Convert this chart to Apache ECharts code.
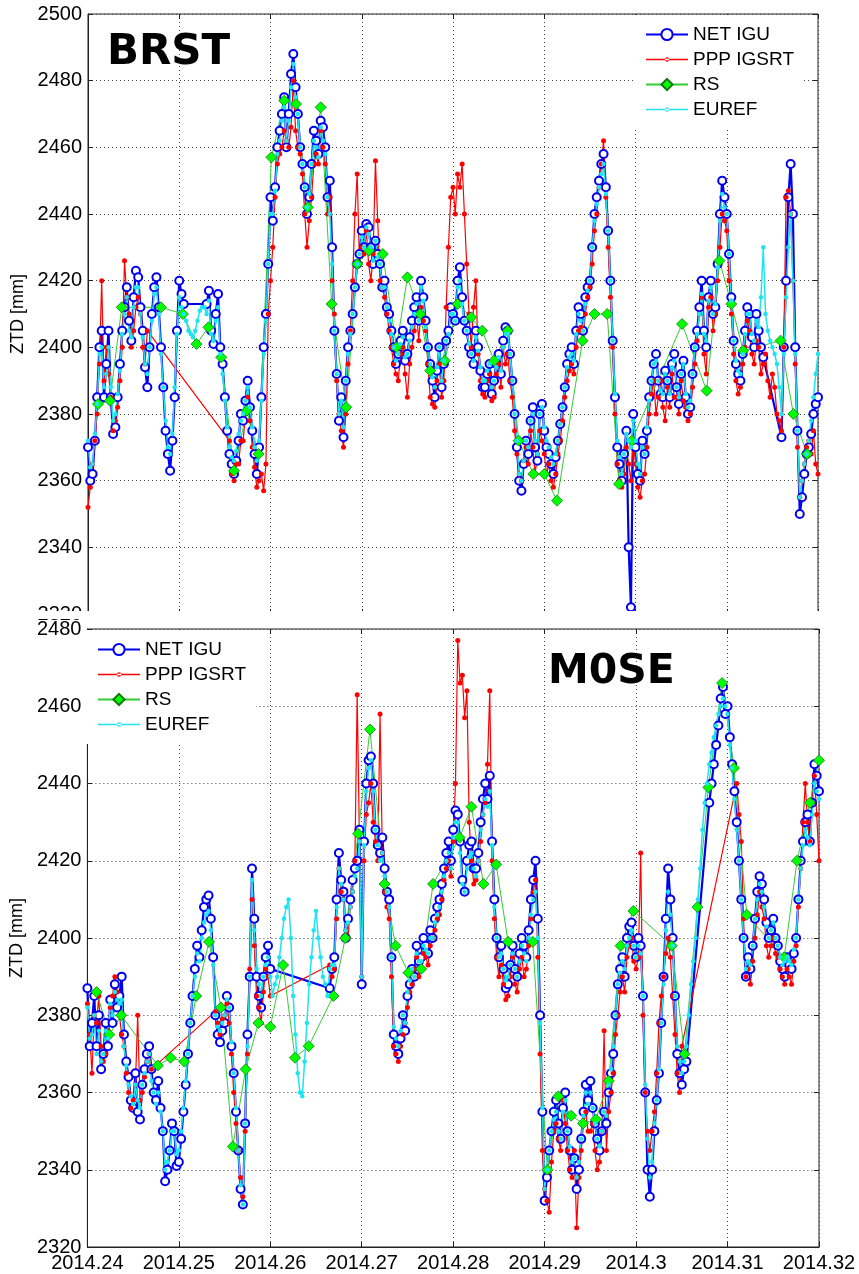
<!DOCTYPE html>
<html>
<head>
<meta charset="utf-8">
<title>ZTD BRST / M0SE</title>
<script src="https://cdn.jsdelivr.net/npm/echarts@6/dist/echarts.min.js"></script>
<style>
  html, body { margin: 0; padding: 0; background: #fff; }
  #chart { width: 859px; height: 1274px; }
</style>
</head>
<body>
<div id="chart"></div>
<script>
// solutions are given on a regular epoch grid (decimal year)
var epochStart = 2014.24
var epochStep = 0.00025

// ---- BRST ----
var brstNet = [2370,2360,2362,2372,2385,2400,2405,2385,2395,2405,2385,2374,2376,2385,2395,2405,2412,2418,2408,2402,
  2415,2423,2421,2412,2405,2394,2388,2400,2410,2418,2421,2412,2400,2388,2375,2368,2363,2372,2385,2405,
  2420,2416,2413,null,null,null,null,null,null,null,null,null,2413,2417,2405,2401,2410,2416,2400,2395,
  2385,2375,2368,2365,2362,2366,2372,2380,2378,2384,2390,2382,2375,2368,2362,2370,2385,2400,2410,2425,
  2445,2438,2448,2460,2465,2470,2475,2460,2470,2482,2488,2478,2470,2460,2455,2448,2440,2445,2455,2465,
  2462,2458,2468,2466,2460,2445,2450,2430,2405,2392,2378,2385,2373,2390,2400,2405,2410,2418,2425,2428,
  2435,2430,2437,2436,2430,2425,2432,2428,2425,2418,2420,2412,2410,2405,2400,2395,2398,2402,2405,2396,
  2398,2403,2408,2412,2415,2408,2420,2415,2408,2400,2395,2390,2385,2393,2400,2388,2395,2402,2405,2412,
  2410,2408,2420,2424,2415,2408,2405,2400,2398,2395,2405,2400,2393,2388,2388,2392,2395,2386,2390,2395,
  2398,2392,2402,2406,2405,2398,2390,2380,2370,2360,2357,2365,2372,2368,2378,2382,2370,2366,2380,2383,
  2375,2370,2368,2365,2362,2367,2372,2377,2382,2388,2395,2398,2400,2395,2405,2412,2410,2405,2415,2418,
  2420,2430,2440,2445,2450,2455,2458,2448,2435,2420,2402,2385,2370,2365,2360,2368,2375,2340,2322,2380,
  2370,2362,2360,2372,2368,2375,2385,2390,2395,2398,2390,2386,2385,2393,2390,2385,2395,2398,2388,2383,
  2392,2396,2385,2380,2382,2392,2400,2405,2412,2420,2405,2400,2415,2420,2410,2412,2425,2440,2450,2445,
  2440,2428,2415,2402,2395,2392,2390,2398,2405,2412,2410,2403,2400,2410,2405,2400,2397,null,null,null,
  null,null,null,null,2373,2400,2420,2445,2455,2440,2400,2375,2350,2355,2362,2368,2370,2374,2380,2383,
  2385]
var brstPpp = [2352,2358,2365,2372,2380,2395,2420,2390,2400,2392,2385,2375,2378,2382,2390,2400,2426,2415,2410,2400,
  2405,2412,2415,2410,2400,2395,2405,null,null,null,null,null,null,null,null,null,null,null,null,null,
  null,null,null,null,null,null,null,null,null,null,null,null,null,null,null,null,null,null,null,null,
  null,null,2372,2362,2360,2365,2365,2372,2372,2380,2385,2378,2370,2364,2358,2360,2362,2357,2365,2410,
  2420,2430,2445,2455,2458,2460,2465,2462,2460,2466,2480,2465,2460,2458,2452,2440,2430,2438,2445,2455,
  2458,2455,2465,2460,2455,2440,2445,2420,2410,2390,2380,2375,2370,2380,2395,2405,2420,2440,2452,2425,
  2430,2428,2435,2425,2420,2428,2456,2438,2420,2418,2415,2410,2405,2400,2395,2392,2390,2398,2400,2392,
  2385,2395,2400,2405,2410,2402,2412,2408,2405,2395,2385,2383,2382,2390,2395,2385,2390,2412,2430,2445,
  2448,2440,2452,2448,2455,2440,2425,2410,2400,2412,2420,2398,2390,2386,2385,2390,2392,2384,2385,2392,
  2395,2388,2400,2395,2398,2390,2385,2375,2368,2362,2360,2366,2370,2365,2375,2370,2362,2368,2375,2372,
  2368,2362,2365,2360,2358,2362,2368,2372,2378,2385,2390,2393,2395,2392,2400,2405,2406,2402,2410,2415,
  2418,2425,2435,2440,2448,2455,2462,2445,2430,2415,2400,2380,2365,2360,2358,2362,2370,2365,2360,2372,
  2365,2358,2355,2360,2362,2370,2380,2386,2390,2380,2385,2390,2382,2378,2388,2382,2392,2385,2385,2380,
  2390,2384,2382,2378,2380,2388,2395,2402,2410,2415,2398,2392,2412,2415,2405,2410,2420,2430,2440,2438,
  2435,2420,2410,2398,2390,2386,2388,2395,2400,2408,2405,2398,2395,2402,2400,2392,2395,2398,2390,2385,
  2392,2388,2380,2378,2375,2400,2445,2447,2440,2420,2395,2370,2355,2360,2365,2370,2372,2368,2375,2365,
  2362]
var brstEuref = [2372,2364,2365,2374,2383,2398,2400,2388,2392,2400,2388,2378,2380,2386,2393,2404,2410,2415,2405,2403,
  2412,2418,2418,2410,2403,2395,2392,2400,2408,2416,2418,2410,2398,2388,2378,2370,2368,2374,2388,2404,
  2415,2412,2410,2408,2405,2404,2403,2405,2408,2411,2412,2412,2410,2414,2404,2402,2408,2412,2398,2392,
  2384,2376,2370,2367,2366,2369,2374,2378,2380,2384,2388,2382,2376,2370,2366,2372,2384,2398,2408,2425,
  2440,2440,2447,2458,2462,2468,2472,2462,2468,2478,2485,2475,2470,2460,2455,2448,2442,2446,2455,2462,
  2460,2457,2466,2462,2458,2445,2440,2425,2405,2392,2380,2384,2376,2390,2398,2404,2410,2418,2425,2428,
  2433,2430,2436,2434,2430,2426,2432,2427,2425,2418,2418,2412,2408,2404,2400,2396,2398,2401,2403,2397,
  2398,2402,2406,2410,2413,2408,2418,2414,2406,2400,2395,2391,2388,2394,2400,2390,2396,2402,2404,2410,
  2410,2408,2418,2420,2413,2408,2405,2401,2398,2396,2403,2399,2394,2390,2390,2393,2395,2388,2390,2394,
  2397,2393,2400,2404,2404,2398,2390,2380,2372,2362,2360,2366,2372,2370,2378,2380,2372,2368,2380,2382,
  2376,2372,2370,2367,2365,2368,2372,2377,2382,2388,2394,2397,2398,2396,2404,2410,2408,2405,2413,2417,
  2420,2430,2438,2443,2448,2452,2455,2446,2435,2420,2402,2386,2372,2367,2362,2368,2374,2372,2370,2378,
  2372,2365,2362,2370,2368,2376,2384,2390,2395,2396,2390,2387,2386,2392,2390,2386,2394,2396,2388,2385,
  2392,2395,2386,2382,2384,2392,2400,2404,2410,2416,2404,2402,2414,2418,2410,2413,2424,2438,2446,2442,
  2440,2428,2414,2402,2396,2393,2392,2398,2404,2410,2410,2404,2402,2408,2406,2415,2430,2410,2405,2402,
  2400,2398,2395,2388,2380,2398,2415,2430,2440,2420,2398,2375,2355,2360,2365,2368,2372,2378,2385,2392,
  2398]
// radiosonde: [epoch, ztd]
var brstRs = [[2014.2411,2383],[2014.2424,2384],[2014.2437,2412],[2014.2480,2412],[2014.2504,2410],
  [2014.2519,2401],[2014.2532,2406],[2014.2546,2397],[2014.2560,2363],[2014.2574,2381],
  [2014.2587,2368],[2014.2601,2457],[2014.2615,2474],[2014.2628,2473],[2014.2641,2442],
  [2014.2655,2472],[2014.2667,2413],[2014.2683,2382],[2014.2695,2425],[2014.2708,2429],
  [2014.2723,2428],[2014.2738,2400],[2014.2750,2421],[2014.2764,2410],[2014.2775,2393],
  [2014.2791,2396],[2014.2805,2413],[2014.2820,2409],[2014.2832,2405],[2014.2845,2396],
  [2014.2860,2405],[2014.2872,2372],[2014.2888,2362],[2014.2900,2362],[2014.2914,2354],
  [2014.2942,2402],[2014.2955,2410],[2014.2969,2410],[2014.2982,2359],[2014.2996,2372],
  [2014.3051,2407],[2014.3078,2387],[2014.3092,2426],[2014.3105,2413],[2014.3118,2399],
  [2014.3159,2402],[2014.3173,2380],[2014.3188,2368]]

// ---- M0SE ----
var moseNet = [2387,2372,2378,2385,2372,2380,2366,2370,2378,2372,2384,2378,2388,2382,2385,2390,2375,2368,2364,2358,
  2356,2365,2355,2353,2362,2366,2370,2372,2366,2360,2358,2363,2356,2350,2337,2340,2345,2352,2350,2341,
  2342,2348,2355,2362,2370,2378,2385,2392,2398,2395,2402,2408,2410,2411,2405,2395,2380,2375,2373,2376,
  2378,2385,2382,2372,2365,2355,2345,2335,2331,2352,2375,2390,2418,2405,2390,2385,2382,2390,2395,2398,
  2392,null,null,null,null,null,null,null,null,null,null,null,null,null,null,null,null,null,null,null,
  null,null,null,null,null,null,2387,2392,2395,2410,2422,2415,2412,2400,2405,2410,2415,2418,2420,2428,
  2388,2425,2440,2446,2447,2440,2428,2424,2422,2426,2418,2412,2410,2395,2375,2372,2370,2374,2380,2376,
  2385,2388,2392,2390,2398,2394,2395,2400,2398,2396,2402,2400,2405,2408,2410,2414,2418,2422,2425,2420,
  2428,2433,2432,2425,2415,2412,2420,2424,2425,2418,2418,2422,2430,2436,2440,2436,2442,2425,2410,2400,
  2395,2398,2392,2387,2388,2393,2398,2392,2390,2396,2400,2398,2395,2402,2410,2415,2420,2405,2380,2355,
  2332,2338,2345,2350,2355,2358,2352,2348,2356,2360,2350,2345,2340,2343,2335,2340,2348,2355,2362,2358,
  2363,2356,2352,2348,2345,2350,2355,2352,2360,2365,2370,2380,2388,2392,2395,2390,2400,2403,2404,2398,
  2395,2400,2398,2385,2360,2340,2333,2340,2350,2358,2365,2378,2390,2405,2418,2410,2400,2385,2370,2365,
  2362,2366,2368,null,null,null,null,null,null,null,null,null,2435,2440,2445,2450,2455,2462,2465,2458,
  2460,2452,2445,2438,2430,2420,2410,2400,2390,2395,2392,2398,2405,2412,2416,2414,2410,2404,2400,2402,
  2405,2400,2398,2394,2392,2390,2395,2393,2392,2396,2400,2410,2420,2425,2430,2432,2425,2435,2445,2442,
  2438]
var mosePpp = [2383,2375,2365,2380,2378,2385,2372,2368,2370,2376,2382,2385,2390,2386,2380,2375,2372,2365,2360,2356,
  2358,2362,2380,2358,2360,2364,2368,2370,2366,null,null,null,null,null,null,null,null,null,null,null,
  null,null,null,null,null,null,null,null,null,null,null,null,null,null,null,null,2381,2378,2375,2379,
  2380,2383,2378,2370,2360,2352,2345,2338,2333,2350,2370,2392,2410,2398,2385,2382,2378,2386,2392,2390,
  2385,null,null,null,null,null,null,null,null,null,null,null,null,null,null,null,null,null,null,null,
  null,null,null,null,null,null,2393,2390,2392,2405,2418,2412,2410,2402,2400,2408,2412,2420,2463,2425,
  2390,2420,2432,2435,2440,2430,2425,2420,2458,2422,2412,2408,2405,2390,2372,2370,2368,2372,2375,2378,
  2382,2386,2388,2392,2395,2390,2392,2396,2395,2393,2398,2400,2402,2405,2406,2410,2415,2418,2420,2416,
  2425,2440,2477,2466,2468,2457,2464,2430,2420,2414,2415,2420,2425,2432,2435,2445,2464,2420,2405,2395,
  2390,2393,2388,2384,2385,2390,2395,2388,2386,2392,2395,2390,2392,2398,2405,2412,2415,2395,2370,2345,
  2335,2332,2329,2342,2350,2352,2348,2345,2358,2352,2345,2340,2338,2345,2325,2338,2345,2352,2355,2350,
  2350,2352,2345,2340,2342,2350,2376,2345,2355,2360,2365,2375,2380,2386,2390,2386,2395,2398,2400,2394,
  2392,2395,2422,2380,2360,2350,2345,2350,2355,2365,2378,2385,2390,2396,2400,2395,2385,2375,2365,2360,
  2372,null,null,null,null,null,null,null,null,null,null,null,null,null,null,null,null,null,null,null,
  null,null,null,null,2440,2432,2425,2405,2390,2392,2388,2394,2400,2406,2412,2408,2405,2398,2395,2398,
  2400,2396,2395,2392,2390,2388,2392,2390,2388,2394,2398,2408,2418,2430,2440,2430,2425,2435,2442,2432,
  2420]
var moseEuref = [2382,2374,2375,2380,2370,2376,2368,2370,2376,2374,2383,2380,2386,2384,2383,2384,2372,2367,2362,2359,
  2357,2362,2358,2356,2362,2365,2368,2370,2363,2360,2357,2360,2355,2350,2340,2342,2345,2350,2350,2344,
  2345,2350,2356,2363,2370,2378,2385,2390,2396,2394,2400,2404,2406,2407,2402,2393,2380,2377,2376,2378,
  2380,2384,2382,2373,2365,2356,2345,2336,2331,2352,2372,2390,2415,2402,2392,2388,2385,2390,2393,2395,
  2390,2385,2388,2390,2395,2400,2405,2408,2410,2400,2385,2375,2365,2360,2359,2368,2378,2388,2395,2402,
  2407,2400,2395,2390,2388,2385,2392,2393,2393,2408,2418,2414,2410,2402,2404,2408,2412,2416,2418,2425,
  2390,2424,2438,2444,2446,2438,2428,2424,2420,2422,2416,2412,2408,2395,2377,2374,2372,2376,2380,2378,
  2386,2389,2392,2390,2396,2394,2394,2398,2397,2396,2400,2400,2404,2406,2408,2412,2416,2420,2422,2418,
  2426,2430,2430,2422,2414,2412,2418,2421,2422,2418,2416,2420,2428,2432,2436,2434,2438,2424,2408,2400,
  2395,2396,2392,2389,2390,2393,2396,2392,2390,2394,2398,2396,2394,2400,2406,2410,2412,2400,2378,2356,
  2335,2340,2345,2350,2353,2355,2350,2348,2355,2358,2350,2346,2342,2343,2338,2342,2348,2354,2360,2357,
  2360,2356,2352,2348,2346,2350,2355,2354,2362,2366,2372,2380,2388,2391,2394,2392,2398,2400,2402,2398,
  2395,2398,2396,2385,2362,2348,2338,2342,2352,2358,2366,2378,2388,2402,2412,2406,2398,2385,2372,2368,
  2365,2368,2372,2380,2388,2394,2400,2410,2418,2428,2435,2440,2445,2448,2452,2455,2458,2460,2462,2460,
  2458,2450,2444,2436,2428,2420,2410,2400,2392,2394,2393,2398,2405,2410,2414,2412,2408,2403,2400,2402,
  2404,2400,2398,2395,2393,2394,2395,2394,2393,2397,2400,2410,2418,2424,2428,2426,2424,2432,2440,2438,
  2436]
var moseRs = [[2014.2410,2386],[2014.2424,2375],[2014.2437,2380],[2014.2477,2367],[2014.2491,2369],
  [2014.2506,2368],[2014.2519,2385],[2014.2533,2399],[2014.2546,2382],[2014.2559,2346],
  [2014.2573,2366],[2014.2587,2378],[2014.2600,2377],[2014.2614,2393],[2014.2627,2369],
  [2014.2642,2372],[2014.2669,2385],[2014.2682,2400],[2014.2696,2427],[2014.2709,2454],
  [2014.2725,2414],[2014.2737,2398],[2014.2751,2391],[2014.2765,2392],[2014.2778,2414],
  [2014.2807,2426],[2014.2820,2434],[2014.2833,2414],[2014.2847,2419],[2014.2860,2399],
  [2014.2887,2399],[2014.2903,2340],[2014.2915,2359],[2014.2929,2354],[2014.2942,2352],
  [2014.2956,2353],[2014.2970,2363],[2014.2983,2398],[2014.2997,2407],[2014.3039,2398],
  [2014.3053,2370],[2014.3067,2408],[2014.3079,2439],[2014.3094,2466],[2014.3107,2444],
  [2014.3121,2406],[2014.3162,2395],[2014.3176,2420],[2014.3190,2435],[2014.3200,2446]]

var names = ['NET IGU', 'PPP IGSRT', 'RS', 'EUREF']
var BLUE = '#0000f0'
var RED = '#ff0000'
var GREEN = '#33cc33'
var CYAN = '#1ee4f2'
var FONT = '"Liberation Sans", Arial, sans-serif'
// thin line with a small dot, for the legend of the dotted series
var dotIcon = 'path://M0,6.3L42,6.3L42,7.7L0,7.7Z M18.8,7A2.2,2.2,0,1,0,23.2,7A2.2,2.2,0,1,0,18.8,7Z'

function withEpochs(values) {
  return values.map(function(v, i) {
    return [+(epochStart + i * epochStep).toFixed(5), v]
  })
}

function panelSeries(k, net, ppp, rs, euref) {
  return [{
    name: names[0], type: 'line', xAxisIndex: k, yAxisIndex: k,
    data: withEpochs(net), connectNulls: true, showAllSymbol: true,
    symbol: 'emptyCircle', symbolSize: 8,
    lineStyle: { color: BLUE, width: 2.2 },
    itemStyle: { color: BLUE, borderWidth: 1.8 }
  }, {
    name: names[1], type: 'line', xAxisIndex: k, yAxisIndex: k,
    data: withEpochs(ppp), connectNulls: true, showAllSymbol: true,
    symbol: 'circle', symbolSize: 5,
    lineStyle: { color: RED, width: 1.2 },
    itemStyle: { color: RED }
  }, {
    name: names[2], type: 'line', xAxisIndex: k, yAxisIndex: k,
    data: rs, showAllSymbol: true,
    symbol: 'diamond', symbolSize: 11,
    lineStyle: { color: GREEN, width: 1 },
    itemStyle: { color: '#00ff00', borderColor: '#117711', borderWidth: 0.8 }
  }, {
    name: names[3], type: 'line', xAxisIndex: k, yAxisIndex: k,
    data: withEpochs(euref), connectNulls: true, showAllSymbol: true,
    symbol: 'circle', symbolSize: 4.5,
    lineStyle: { color: CYAN, width: 1.5 },
    itemStyle: { color: CYAN }
  }]
}

var gridLine = { show: true, lineStyle: { color: '#444', type: [1, 3], width: 1 } }

function timeAxis(k, labels) {
  return {
    type: 'value', gridIndex: k, min: 2014.24, max: 2014.32, interval: 0.01,
    axisLine: { show: true, onZero: false, lineStyle: { color: '#222' } },
    axisTick: { inside: true, length: 5, lineStyle: { color: '#222' } },
    axisLabel: {
      show: labels, color: '#000', fontSize: 20, fontFamily: FONT, margin: 6,
      formatter: function(v) { return String(+v.toFixed(2)) }
    },
    splitLine: gridLine
  }
}
function ztdAxis(k, min, max, gap) {
  return {
    type: 'value', gridIndex: k, min: min, max: max, interval: 20,
    name: 'ZTD [mm]', nameLocation: 'middle', nameGap: gap,
    nameTextStyle: { color: '#000', fontSize: 18, fontFamily: FONT },
    axisLine: { show: true, lineStyle: { color: '#222' } },
    axisTick: { inside: true, length: 5, lineStyle: { color: '#222' } },
    axisLabel: {
      color: '#000', fontSize: 20, fontFamily: FONT, margin: 6,
      formatter: function(v) { return String(v) }
    },
    splitLine: gridLine
  }
}
function mirrorAxis(k, pos, min, max, interval) {
  return {
    type: 'value', gridIndex: k, position: pos, min: min, max: max, interval: interval,
    axisLine: { show: false }, axisLabel: { show: false }, splitLine: { show: false },
    axisTick: { inside: true, length: 5, lineStyle: { color: '#222' } }
  }
}
function legendAt(left, top) {
  return {
    orient: 'vertical', left: left, top: top,
    padding: [10, 10, 10, 12], backgroundColor: '#fff',
    itemWidth: 42, itemHeight: 14, itemGap: 6,
    textStyle: { color: '#000', fontSize: 19, fontFamily: FONT },
    data: [names[0], { name: names[1], icon: dotIcon }, names[2], { name: names[3], icon: dotIcon }],
    selectedMode: false
  }
}

var chart = echarts.init(document.getElementById('chart'))
chart.setOption({
  animation: false,
  backgroundColor: '#fff',
  grid: [
    { left: 88, right: 41, top: 14, height: 600, show: true, borderColor: '#222', borderWidth: 1 },
    { left: 84, right: 40, top: 629, height: 618, show: true, borderColor: '#222', borderWidth: 1 }
  ],
  xAxis: [timeAxis(0, false), timeAxis(1, true),
    mirrorAxis(0, 'top', 2014.24, 2014.32, 0.01), mirrorAxis(1, 'top', 2014.24, 2014.32, 0.01)],
  yAxis: [ztdAxis(0, 2320, 2500, 53), ztdAxis(1, 2320, 2480, 57),
    mirrorAxis(0, 'right', 2320, 2500, 20), mirrorAxis(1, 'right', 2320, 2480, 20)],
  legend: [legendAt(633, 15), legendAt(85, 630)],
  graphic: [
    { type: 'rect', z: 100, shape: { x: 0, y: 611, width: 859, height: 8 }, style: { fill: '#fff' } },
    { type: 'text', z: 101, left: 107, top: 32, style: { text: 'BRST', font: 'bold 42px "DejaVu Sans"', fill: '#000' } },
    { type: 'text', z: 101, left: 548, top: 652, style: { text: 'M0SE', font: 'bold 41px "DejaVu Sans"', fill: '#000' } }
  ],
  series: panelSeries(0, brstNet, brstPpp, brstRs, brstEuref)
    .concat(panelSeries(1, moseNet, mosePpp, moseRs, moseEuref))
})
</script>
</body>
</html>
